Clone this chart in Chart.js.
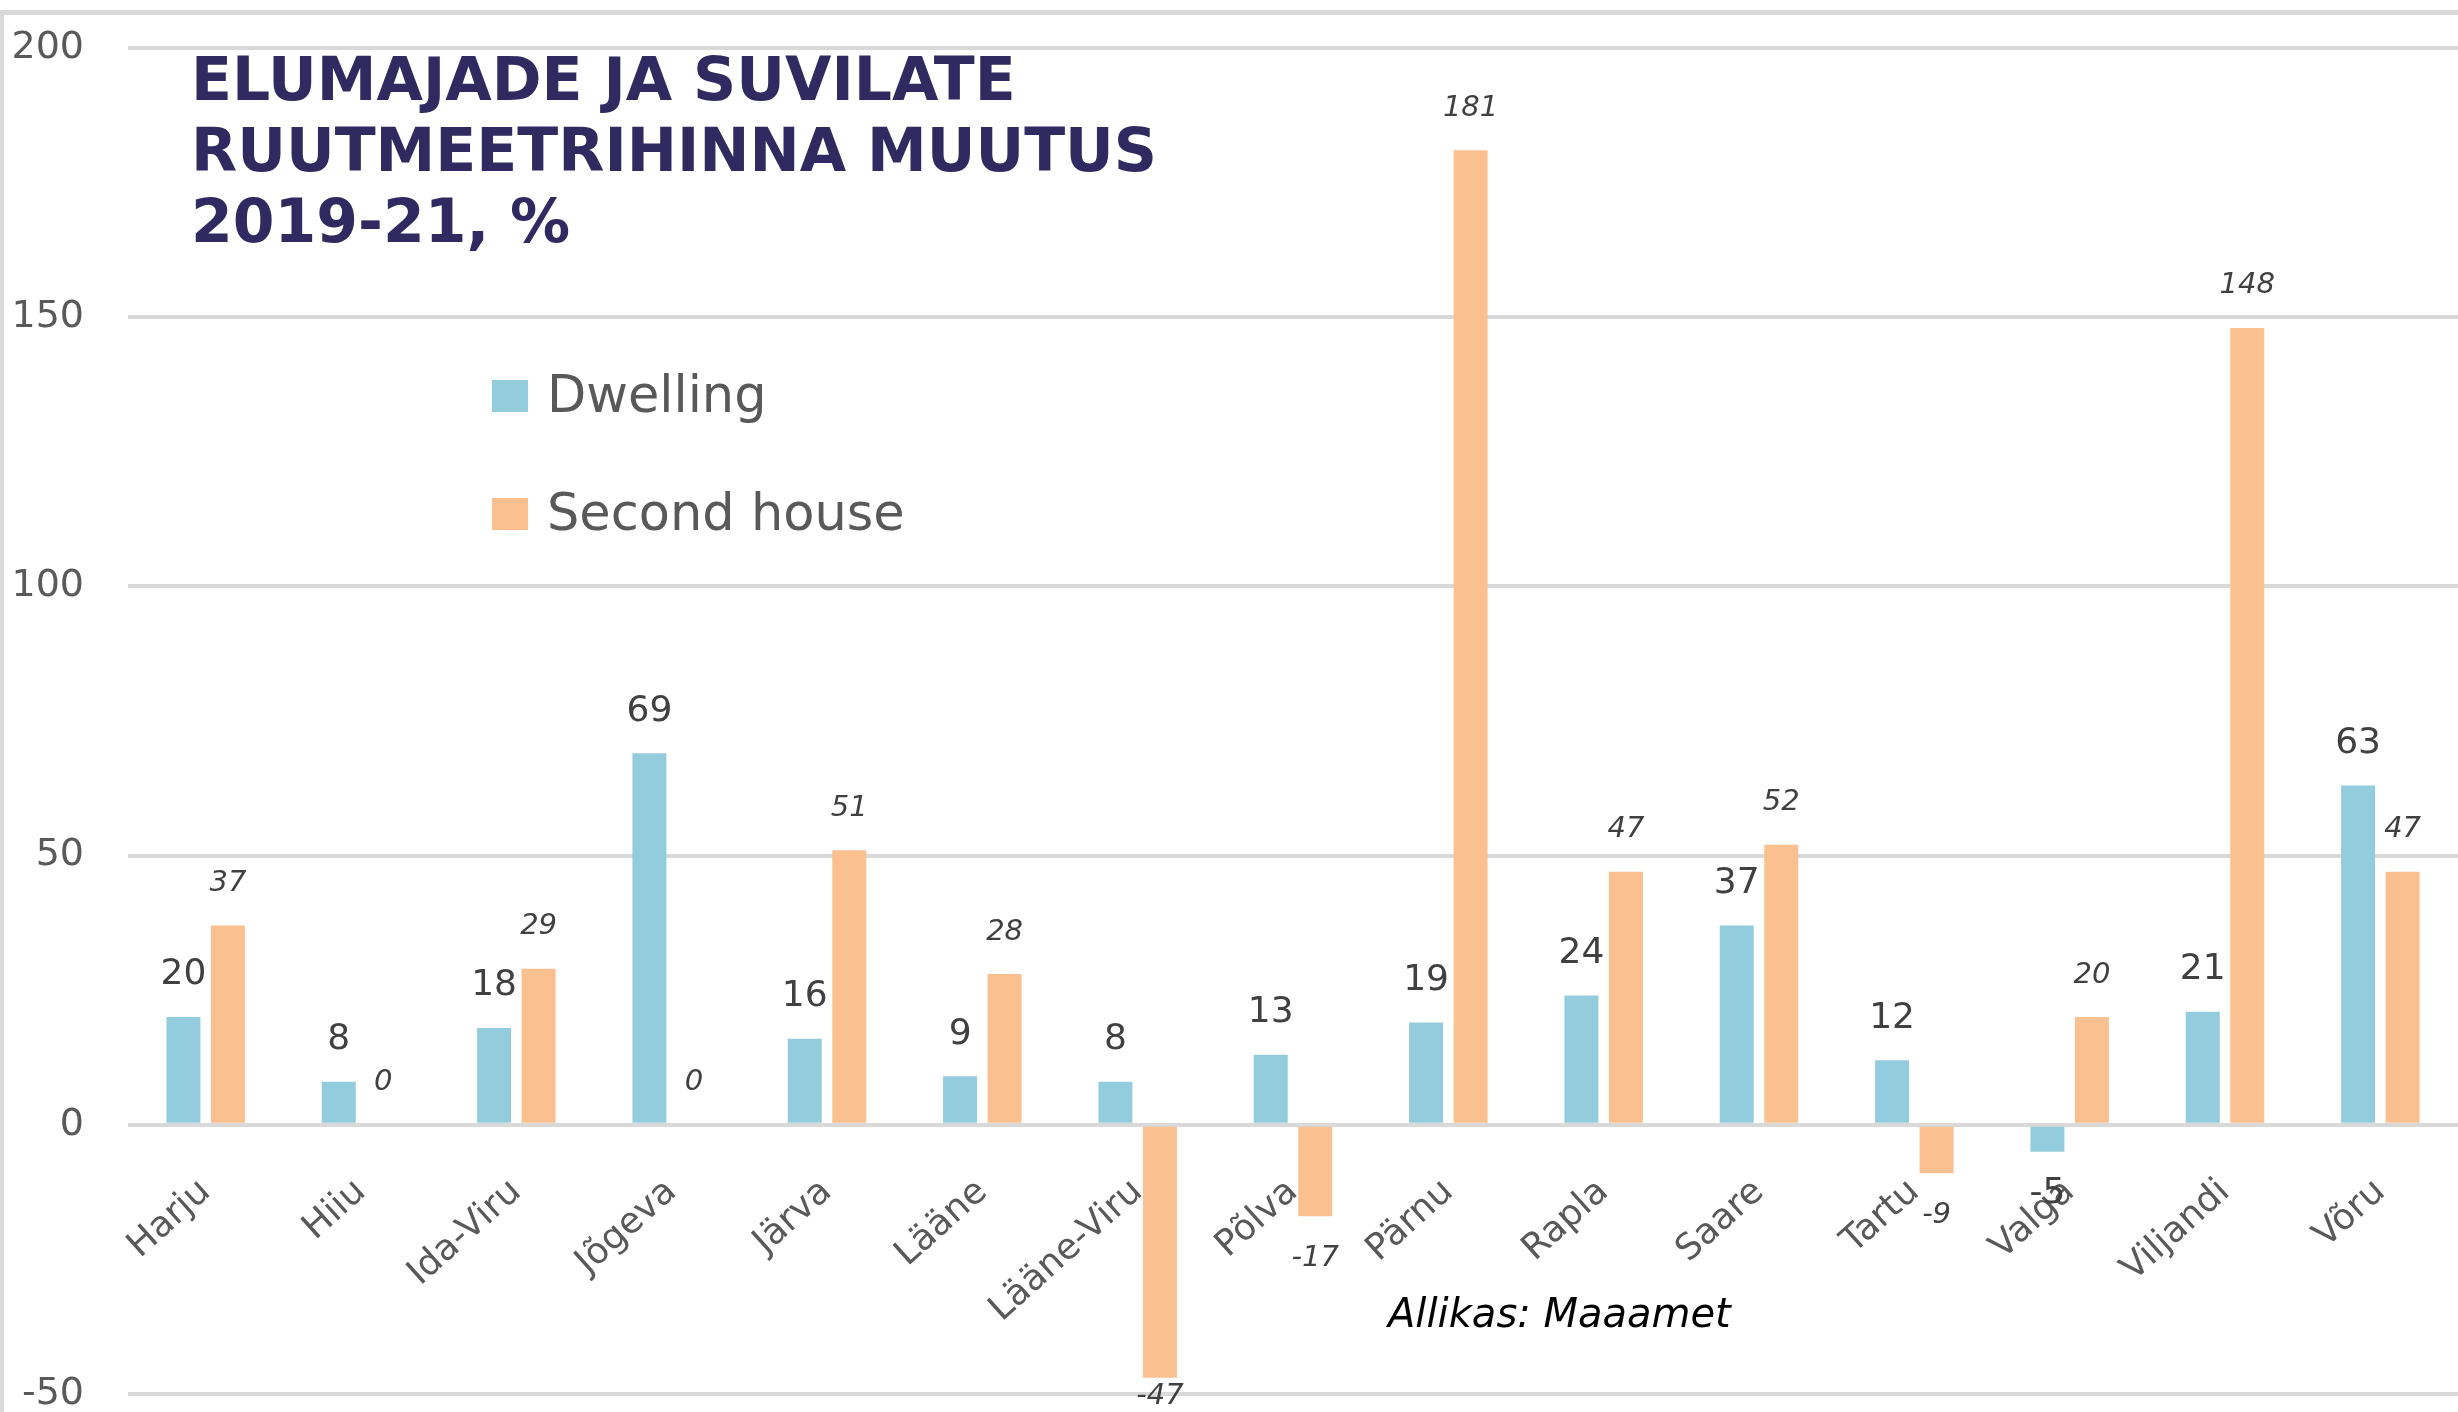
<!DOCTYPE html>
<html lang="et">
<head>
    <meta charset="UTF-8">
    <meta name="viewport" content="width=device-width, initial-scale=1.0">
    <title>Elumajade ja suvilate ruutmeetrihinna muutus 2019-21</title>
    <script src="https://cdn.jsdelivr.net/npm/chart.js"></script>
    <style>
        html, body {
            margin: 0;
            padding: 0;
            background: #fff;
        }

        .wrap {
            position: relative;
            width: 2458px;
            height: 1412px;
            overflow: hidden;
            font-family: "DejaVu Sans", sans-serif;
        }

        .frame {
            position: absolute;
            left: 0;
            top: 10px;
            width: 2458px;
            height: 1402px;
            border-top: 5px solid #d9d9d9;
            border-left: 4px solid #d9d9d9;
            box-sizing: border-box;
        }

        .chart-box {
            position: absolute;
            left: 0;
            top: 0;
            width: 2458px;
            height: 1412px;
        }

        .title {
            position: absolute;
            left: 191px;
            top: 44px;
            font-weight: bold;
            font-size: 60px;
            line-height: 71px;
            color: #312a60;
            white-space: nowrap;
        }

        .legend-item {
            position: absolute;
            left: 492px;
            font-size: 51px;
            line-height: 1;
            color: #595959;
            white-space: nowrap;
        }

        .legend-item span {
            position: absolute;
            left: 0;
            width: 36px;
            height: 32px;
        }

        .legend-item b {
            font-weight: normal;
            margin-left: 55px;
        }

        .source {
            position: absolute;
            left: 1388px;
            top: 1293px;
            font-size: 40px;
            line-height: 1;
            font-style: italic;
            color: #000;
        }
    </style>
</head>
<body>

<div class="wrap">
    <div class="frame"></div>
    <div class="chart-box"><canvas id="grafik"></canvas></div>
    <div class="title">ELUMAJADE JA SUVILATE<br>RUUTMEETRIHINNA MUUTUS<br>2019-21, %</div>
    <div id="legend"></div>
    <div class="source">Allikas: Maaamet</div>
</div>

<script>
    const maakonnad = ['Harju', 'Hiiu', 'Ida-Viru', 'Jõgeva', 'Järva', 'Lääne', 'Lääne-Viru', 'Põlva',
                       'Pärnu', 'Rapla', 'Saare', 'Tartu', 'Valga', 'Viljandi', 'Võru'];
    const dwelling = [20, 8, 18, 69, 16, 9, 8, 13, 19, 24, 37, 12, -5, 21, 63];
    const secondHouse = [37, 0, 29, 0, 51, 28, -47, -17, 181, 47, 52, -9, 20, 148, 47];
    const yTicks = [-50, 0, 50, 100, 150, 200];

    const labelFonts = ['36px "DejaVu Sans"', 'italic 29px "DejaVu Sans"'];

    // numbrid tulpade otsa
    const valueLabels = {
        id: 'valueLabels',
        afterDatasetsDraw(chart) {
            const { ctx, chartArea } = chart;
            ctx.save();
            ctx.textAlign = 'center';
            ctx.textBaseline = 'middle';
            ctx.fillStyle = '#404040';
            chart.data.datasets.forEach((ds, i) => {
                ctx.font = labelFonts[i];
                chart.getDatasetMeta(i).data.forEach((bar, j) => {
                    const v = ds.data[j];
                    const y = v >= 0 ? bar.y - 42 : Math.min(bar.y + 42, chartArea.bottom + 2);
                    ctx.fillText(String(v), bar.x, y);
                });
            });
            ctx.restore();
        }
    };

    const grafik = new Chart(document.getElementById('grafik'), {
        type: 'bar',
        data: {
            labels: maakonnad,
            datasets: [
                { label: 'Dwelling', data: dwelling, backgroundColor: '#93cddd' },
                { label: 'Second house', data: secondHouse, backgroundColor: '#fac090' }
            ]
        },
        options: {
            responsive: true,
            maintainAspectRatio: false,
            animation: false,
            datasets: {
                bar: { categoryPercentage: 0.573, barPercentage: 0.764 }
            },
            layout: { padding: { top: 48, bottom: 18, left: 0, right: 0 } },
            plugins: {
                legend: { display: false },
                tooltip: { enabled: false }
            },
            scales: {
                x: {
                    position: { y: 0 },
                    grid: { display: false, drawTicks: false },
                    border: { display: false },
                    ticks: {
                        autoSkip: false,
                        minRotation: 42,
                        maxRotation: 42,
                        padding: 46,
                        color: '#595959',
                        font: { family: 'DejaVu Sans', size: 36 }
                    },
                    afterFit(s) {
                        s.height = 0;
                        s.paddingLeft = 0;
                        s.paddingRight = 0;
                    }
                },
                y: {
                    min: -50,
                    max: 200,
                    grid: { color: '#d9d9d9', lineWidth: 4, drawTicks: false },
                    border: { display: false },
                    ticks: {
                        padding: 44,
                        color: '#595959',
                        font: { family: 'DejaVu Sans', size: 38 }
                    },
                    afterBuildTicks(s) {
                        s.ticks = yTicks.map(v => ({ value: v }));
                    },
                    afterFit(s) {
                        s.width = 128;
                        s.paddingTop = 0;
                        s.paddingBottom = 0;
                    }
                }
            }
        },
        plugins: [valueLabels]
    });

    // legend graafiku sisse
    const legend = document.getElementById('legend');
    const legendTops = [369, 487];
    const boxTops = [11, 11];
    grafik.data.datasets.forEach((ds, i) => {
        const item = document.createElement('div');
        item.className = 'legend-item';
        item.style.top = legendTops[i] + 'px';
        item.innerHTML = `<span style="background:${ds.backgroundColor}; top:${boxTops[i]}px"></span><b>${ds.label}</b>`;
        legend.appendChild(item);
    });
</script>

</body>
</html>
